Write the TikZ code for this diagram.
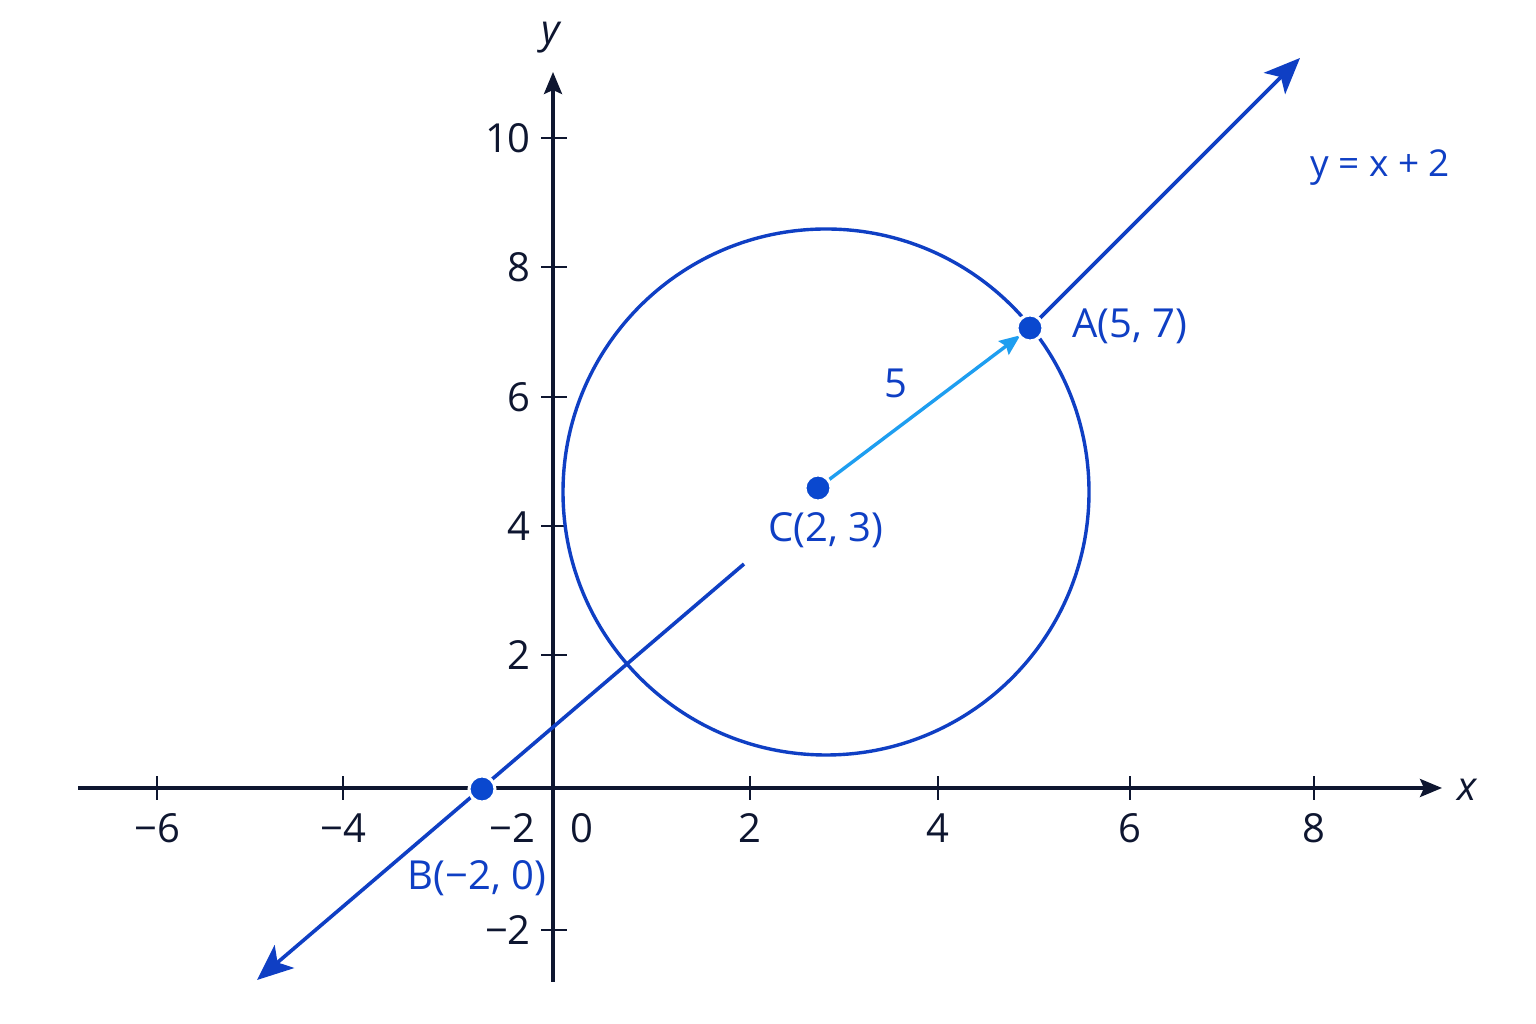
\documentclass[tikz,border=0pt]{standalone}
\usepackage{fontspec}
\setmainfont{Open Sans}
\usetikzlibrary{arrows.meta}
\definecolor{navy}{HTML}{0E1630}
\definecolor{dblue}{HTML}{0F3FC4}
\definecolor{lblue}{HTML}{1E9EF0}
\definecolor{dotblue}{HTML}{0A48CF}
\tikzset{
  axis/.style={draw=navy, line width=3.4pt, -{Stealth[length=22pt,width=18pt,inset=4pt]}},
  tick/.style={draw=navy, line width=2.8pt},
  ticklabel/.style={text=navy, font=\fontsize{40}{42}\selectfont, inner sep=0pt},
  axislabel/.style={text=navy, font=\fontsize{40}{42}\selectfont\itshape, inner sep=0pt},
  bluelabel/.style={text=dblue, font=\fontsize{40}{42}\selectfont, inner sep=0pt},
  bline/.style={draw=dblue, line width=3.6pt},
  dot/.style={circle, fill=dotblue, draw=white, line width=3pt, minimum size=26pt, inner sep=0pt},
}
\begin{document}
\begin{tikzpicture}[x=1pt,y=1pt]
\useasboundingbox (0,0) rectangle (1536,1024);
\fill[white] (0,0) rectangle (1536,1024);
% axes
\coordinate (xs) at (78,236);
\coordinate (xe) at (1442,236);
\coordinate (ys) at (553,42);
\coordinate (ye) at (553,952);
\draw[axis] (xs) -- (xe);
\draw[axis] (ys) -- (ye);
\node[axislabel] (xl) at (1467,234) {x};
\node[axislabel] (yl) at (551,986) {y};
% x ticks
\foreach \px/\lab/\nm in {157/−6/a,343/−4/b,750/2/c,938/4/d,1130/6/e,1314/8/f}{
  \draw[tick] (\px,224) -- (\px,248);
  \node[ticklabel] (xt\nm) at (\px,196) {\lab};
}
\node[ticklabel] (xtm2) at (512,196) {−2};
\node[ticklabel] (xt0) at (582,196) {0};
% y ticks
\foreach \py/\lab/\nm in {886/10/a,757/8/b,627/6/c,498/4/d,369/2/e,94/−2/f}{
  \draw[tick] (541,\py) -- (567,\py);
  \node[ticklabel, anchor=east] (yt\nm) at (531,\py) {\lab};
}
% circle
\coordinate (O) at (826,532);
\draw[dblue, line width=3.4pt] (O) circle[radius=263];
% points
\coordinate (A) at (1030,696);
\coordinate (B) at (482,235);
\coordinate (C) at (818,536);
\coordinate (Ltip) at (257,44);
\coordinate (Lgap) at (744,460);
\coordinate (Utip) at (1300,966);
% line y = x + 2
\draw[bline, -{Stealth[length=36pt,width=30pt,inset=9pt]}] (Lgap) -- (Ltip);
\draw[bline, -{Stealth[length=36pt,width=30pt,inset=9pt]}] (A) -- (Utip);
% radius arrow
\draw[lblue, line width=3.4pt, shorten >=12pt, -{Stealth[length=21pt,width=17pt,inset=3pt]}] (C) -- (A);
% dots
\node[dot] (Ad) at (A) {};
\node[dot] (Bd) at (B) {};
\node[dot] (Cd) at (C) {};
% labels
\node[bluelabel] (Al) at (1130,698) {A(5, 7)};
\node[bluelabel] (Bl) at (477,146) {B(−2, 0)};
\node[bluelabel] (Cl) at (826,494) {C(2, 3)};
\node[bluelabel] (rl) at (896,641) {5};
\node[bluelabel, font=\fontsize{37}{39}\selectfont] (eq) at (1380,856) {y = x + 2};
\end{tikzpicture}
\end{document}
